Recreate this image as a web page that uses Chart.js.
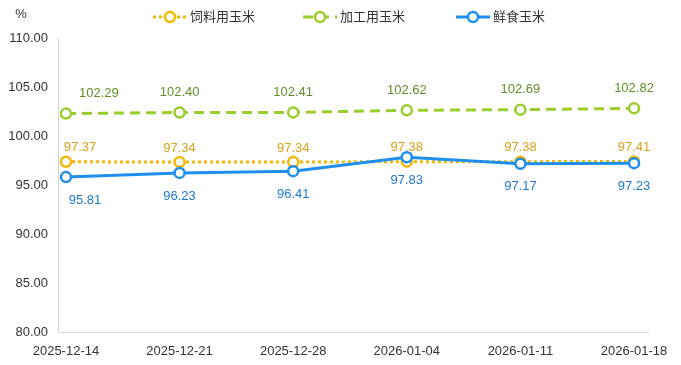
<!DOCTYPE html>
<html>
<head>
<meta charset="utf-8">
<script src="https://cdn.jsdelivr.net/npm/chart.js@4"></script>
<style>
  html, body { margin: 0; padding: 0; background: #fff; }
  #wrap { width: 681px; height: 365px; position: relative; }
</style>
</head>
<body>
<div id="wrap"><canvas id="c"></canvas></div>
<script>
// data
const dates = ['2025-12-14', '2025-12-21', '2025-12-28', '2026-01-04', '2026-01-11', '2026-01-18'];
const feedCorn = [97.37, 97.34, 97.34, 97.38, 97.38, 97.41];
const processCorn = [102.29, 102.40, 102.41, 102.62, 102.69, 102.82];
const freshCorn = [95.81, 96.23, 96.41, 97.83, 97.17, 97.23];
const seriesNames = ['饲料用玉米', '加工用玉米', '鲜食玉米'];
const yTicks = [80, 85, 90, 95, 100, 105, 110];

const FONT = '"Liberation Sans", Arial, "Noto Sans CJK SC", sans-serif';
const colors = {
    feed: '#f5b700',
    feedText: '#d9a21a',
    proc: '#9acd2a',
    procText: '#5f8f26',
    fresh: '#1e8fef',
    freshText: '#1f78d1'
};

function pts(arr) {
    return arr.map((v, i) => ({ x: i, y: v }));
}

const datasets = [
    {
        label: seriesNames[0], data: pts(feedCorn), order: 2,
        borderColor: colors.feed, borderDash: [3, 3], borderWidth: 3,
        pointBackgroundColor: '#fff', pointBorderColor: colors.feed,
        textColor: colors.feedText, labelDy: -14, firstDx: 14
    },
    {
        label: seriesNames[1], data: pts(processCorn), order: 3,
        borderColor: colors.proc, borderDash: [10, 6], borderWidth: 3,
        pointBackgroundColor: '#fff', pointBorderColor: colors.proc,
        textColor: colors.procText, labelDy: -20, firstDx: 33
    },
    {
        label: seriesNames[2], data: pts(freshCorn), order: 1,
        borderColor: colors.fresh, borderWidth: 3,
        pointBackgroundColor: '#fff', pointBorderColor: colors.fresh,
        textColor: colors.freshText, labelDy: 23, firstDx: 19
    }
];
datasets.forEach(ds => {
    ds.pointRadius = 5;
    ds.pointBorderWidth = 2.5;
    ds.tension = 0;
    ds.fill = false;
});

// value labels next to each point
const valueLabels = {
    id: 'valueLabels',
    afterDatasetsDraw(chart) {
        const ctx = chart.ctx;
        ctx.save();
        ctx.font = '13px ' + FONT;
        ctx.textAlign = 'center';
        ctx.textBaseline = 'middle';
        chart.data.datasets.forEach((ds, di) => {
            const meta = chart.getDatasetMeta(di);
            ctx.fillStyle = ds.textColor;
            meta.data.forEach((el, i) => {
                const dx = i === 0 ? ds.firstDx : 0;
                ctx.fillText(ds.data[i].y.toFixed(2), el.x + dx, el.y + ds.labelDy);
            });
        });
        ctx.restore();
    }
};

// legend + unit drawn by hand so the line/circle symbols look right
const topLegend = {
    id: 'topLegend',
    afterDraw(chart) {
        const ctx = chart.ctx;
        ctx.save();
        ctx.font = '13px ' + FONT;
        ctx.fillStyle = '#333';
        ctx.textAlign = 'center';
        ctx.textBaseline = 'middle';
        ctx.fillText('%', 21, 14);

        const starts = [153, 303, 456];
        const y = 17;
        chart.data.datasets.forEach((ds, i) => {
            const x0 = starts[i];
            ctx.strokeStyle = ds.borderColor;
            ctx.lineWidth = 3;
            ctx.setLineDash(ds.borderDash || []);
            ctx.beginPath();
            ctx.moveTo(x0, y);
            ctx.lineTo(x0 + 34, y);
            ctx.stroke();
            ctx.setLineDash([]);
            ctx.beginPath();
            ctx.arc(x0 + 17, y, 5, 0, Math.PI * 2);
            ctx.fillStyle = '#fff';
            ctx.fill();
            ctx.lineWidth = 2.5;
            ctx.stroke();
            ctx.fillStyle = '#333';
            ctx.textAlign = 'left';
            ctx.fillText(ds.label, x0 + 37, y);
        });
        ctx.restore();
    }
};

new Chart(document.getElementById('c'), {
    type: 'line',
    data: { datasets: datasets },
    options: {
        responsive: true,
        maintainAspectRatio: false,
        animation: false,
        events: [],
        layout: { padding: { top: 38, right: 33, left: 0, bottom: 0 } },
        plugins: {
            legend: { display: false },
            tooltip: { enabled: false }
        },
        scales: {
            x: {
                type: 'linear',
                min: -0.07,
                max: 5.123,
                afterBuildTicks: s => { s.ticks = dates.map((d, i) => ({ value: i })); },
                afterFit: s => { s.height = 33; },
                grid: { display: false, drawTicks: false },
                border: { display: true, color: '#d6d6d6', width: 1 },
                ticks: {
                    autoSkip: false,
                    maxRotation: 0,
                    padding: 12,
                    color: '#333',
                    font: { family: FONT, size: 13 },
                    callback: v => dates[v]
                }
            },
            y: {
                min: 80,
                max: 110,
                afterBuildTicks: s => { s.ticks = yTicks.map(v => ({ value: v })); },
                afterFit: s => { s.width = 58; },
                grid: { display: false, drawTicks: false },
                border: { display: true, color: '#d6d6d6', width: 1 },
                ticks: {
                    padding: 10,
                    color: '#333',
                    font: { family: FONT, size: 13 },
                    callback: v => v.toFixed(2)
                }
            }
        }
    },
    plugins: [valueLabels, topLegend]
});
</script>
</body>
</html>
